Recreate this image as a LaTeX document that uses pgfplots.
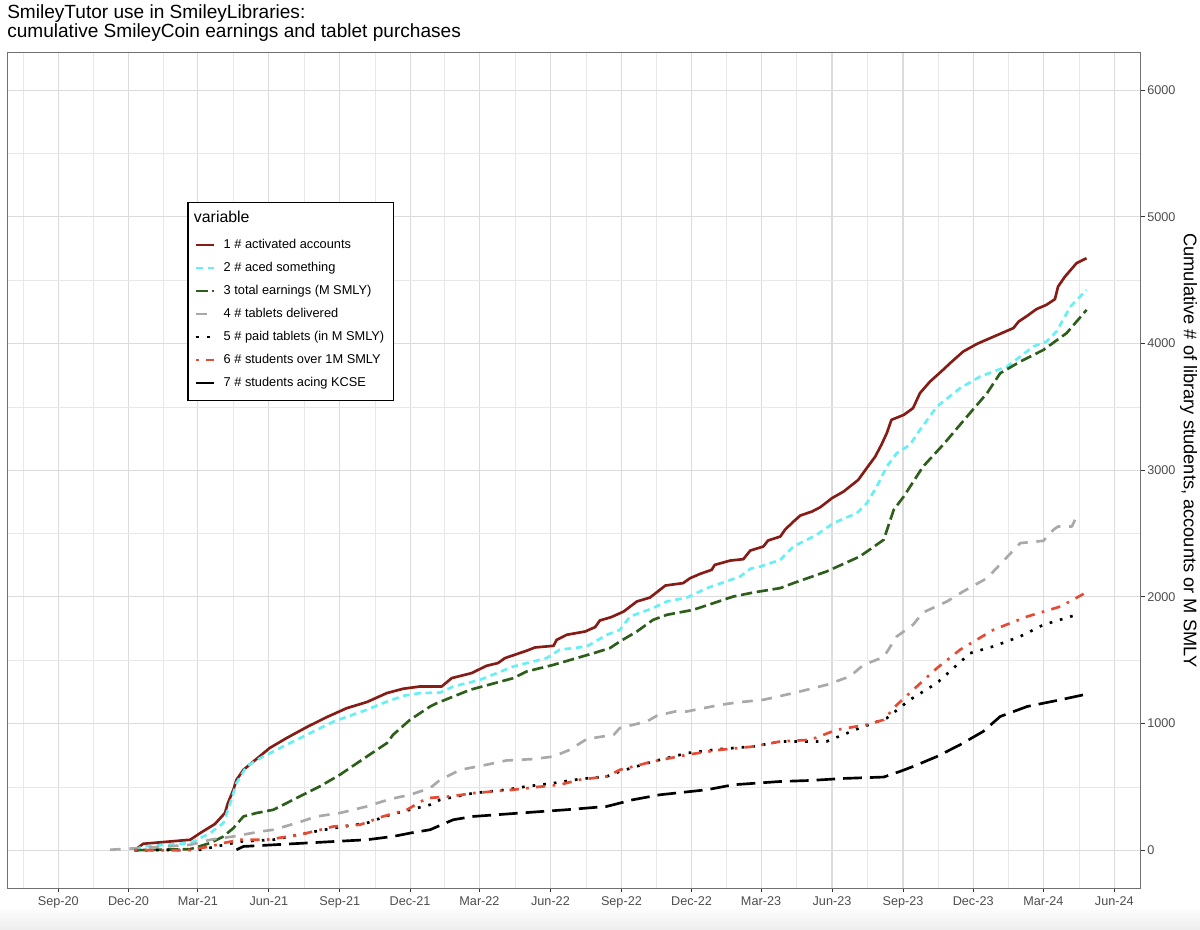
\documentclass[border=0pt]{standalone}
\usepackage{fontspec}
\setmainfont{Liberation Sans}
\usepackage{pgfplots}
\pgfplotsset{compat=1.18}
\usepackage{pgfplotstable}
\definecolor{cA}{HTML}{861C16}
\definecolor{cB}{HTML}{66F0F5}
\definecolor{cC}{HTML}{2E5E1B}
\definecolor{cD}{HTML}{A9A9A9}
\definecolor{cE}{HTML}{000000}
\definecolor{cF}{HTML}{E64B35}
\definecolor{cG}{HTML}{000000}
\definecolor{bordercol}{HTML}{707070}
\definecolor{gridmaj}{HTML}{DCDCDC}
\definecolor{gridmin}{HTML}{E8E8E8}
\definecolor{tickcol}{HTML}{333333}
\definecolor{ticktext}{HTML}{4D4D4D}

% x = days since 2020-09-01
\pgfplotstableread{
d v
99 0
110 51
171 83
184 136
203 207
216 294
220 375
227 478
231 556
240 635
253 701
274 807
296 886
322 972
348 1051
374 1122
400 1170
426 1241
447 1275
469 1293
497 1293
510 1359
536 1399
555 1456
570 1478
579 1517
607 1575
618 1601
642 1614
646 1661
659 1701
683 1727
696 1762
702 1814
717 1841
733 1885
750 1964
767 1995
787 2090
810 2109
819 2148
832 2182
847 2214
851 2253
871 2287
888 2298
897 2366
914 2398
920 2445
936 2477
942 2530
953 2595
962 2643
977 2674
988 2709
1003 2780
1018 2832
1037 2924
1048 3017
1059 3108
1067 3201
1074 3293
1080 3398
1096 3437
1108 3490
1117 3609
1130 3700
1147 3793
1156 3845
1173 3937
1191 3998
1208 4043
1238 4122
1245 4174
1256 4219
1268 4272
1281 4306
1292 4351
1296 4450
1305 4529
1320 4635
1333 4674
}\tabA

\pgfplotstableread{
d v
99 4
110 30
171 57
197 136
214 215
223 373
231 530
244 661
262 728
296 833
322 911
357 1017
400 1109
421 1162
447 1219
469 1241
495 1245
512 1293
547 1346
590 1451
633 1517
650 1583
685 1609
711 1701
728 1740
741 1845
771 1912
789 1964
815 1995
841 2070
884 2161
897 2222
910 2240
936 2293
953 2398
983 2490
1005 2583
1035 2661
1048 2740
1061 2871
1074 3029
1087 3135
1104 3201
1117 3319
1139 3503
1169 3648
1195 3740
1230 3819
1264 3977
1281 4016
1294 4095
1312 4292
1333 4424
}\tabB

\pgfplotstableread{
d v
99 0
171 9
197 57
214 109
227 175
240 267
257 294
279 320
313 425
339 504
365 596
400 740
426 846
434 912
456 1030
482 1135
491 1162
534 1267
590 1359
607 1411
642 1464
694 1556
715 1596
728 1648
750 1727
771 1819
789 1859
823 1898
875 2003
901 2035
936 2070
953 2109
996 2201
1039 2319
1070 2451
1083 2688
1096 2793
1121 3029
1147 3201
1178 3424
1204 3609
1221 3766
1247 3858
1277 3950
1307 4082
1333 4266
}\tabC

\pgfplotstableread{
d v
67 4
82 9
141 30
171 43
197 83
227 109
262 148
279 162
309 215
335 267
365 294
400 346
430 404
456 438
482 491
495 556
521 635
555 675
581 709
616 720
642 740
663 793
685 878
720 912
728 965
763 1017
776 1062
800 1096
815 1096
858 1148
880 1167
914 1188
953 1241
996 1306
1026 1372
1044 1464
1070 1525
1087 1688
1108 1780
1121 1877
1152 1964
1173 2043
1204 2148
1247 2425
1277 2443
1290 2530
1296 2556
1314 2556
1318 2609
}\tabD

\pgfplotstableread{
d v
99 0
184 4
201 25
236 69
279 83
322 136
357 175
400 215
430 280
456 320
482 359
495 399
538 451
581 478
607 504
642 530
676 562
711 583
728 622
771 701
815 767
858 799
901 819
936 859
996 859
1039 965
1074 1043
1104 1188
1139 1320
1182 1556
1212 1609
1247 1688
1277 1780
1320 1859
}\tabE

\pgfplotstableread{
d v
99 0
167 0
197 30
214 57
236 83
270 83
313 122
357 188
391 201
421 267
452 320
478 412
508 425
538 451
590 478
620 499
650 517
676 557
711 583
728 635
771 701
815 754
858 793
901 819
936 859
975 872
1009 951
1048 991
1070 1030
1087 1148
1113 1293
1139 1438
1169 1583
1212 1740
1256 1845
1299 1924
1331 2030
}\tabF

\pgfplotstableread{
d v
231 4
240 30
279 43
357 69
400 83
434 109
460 140
482 162
512 241
538 267
599 294
659 320
711 346
745 399
780 438
841 478
875 517
936 543
975 551
1018 567
1070 578
1091 622
1108 661
1139 740
1169 833
1199 938
1221 1056
1256 1135
1299 1188
1335 1235
}\tabG

\begin{document}
\begin{tikzpicture}
\path[use as bounding box] (0pt,0pt) rectangle (900pt,697.5pt);
\shade[top color=white,bottom color=black!7] (0pt,0pt) rectangle (900pt,18pt);
\begin{axis}[
  at={(5.25pt,31.3pt)}, anchor=south west,
  scale only axis, width=850.3pt, height=627pt,
  xmin=-66.5, xmax=1403.2, ymin=-300, ymax=6300,
  axis line style={draw=bordercol, line width=0.6pt},
  xtick={0,91,181,273,365,456,546,638,730,821,911,1003,1095,1186,1277,1369},
  xticklabels={Sep-20,Dec-20,Mar-21,Jun-21,Sep-21,Dec-21,Mar-22,Jun-22,Sep-22,Dec-22,Mar-23,Jun-23,Sep-23,Dec-23,Mar-24,Jun-24},
  minor xtick={-45.5,45.5,136,227,319,410.5,501,592,684,775.5,866,957,1049,1140.5,1231.5,1323},
  ytick={0,1000,2000,3000,4000,5000,6000},
  yticklabels={0,1000,2000,3000,4000,5000,6000},
  minor ytick={500,1500,2500,3500,4500,5500},
  grid=both,
  major grid style={draw=gridmaj, line width=0.8pt},
  minor grid style={draw=gridmin, line width=0.5pt},
  xtick pos=left, ytick pos=right,
  yticklabel pos=right,
  tick align=outside,
  major tick length=3pt, minor tick length=0pt,
  major tick style={draw=tickcol, line width=0.7pt},
  ticklabel style={font=\fontsize{9.5}{11}\selectfont, text=ticktext},
  xticklabel style={anchor=north, inner sep=0pt},
  xticklabel shift=3.2pt,
  yticklabel style={anchor=west, inner sep=0pt},
  yticklabel shift=1.7pt,
  legend cell align=left,
  legend style={
    at={(0.1588,0.8209)}, anchor=north west,
    draw=black, line width=1.1pt, fill=white,
    inner xsep=4.7pt, inner ysep=9.5pt,
    row sep=7.75pt, column sep=6pt,
    font=\fontsize{9.6}{11}\selectfont,
    nodes={inner sep=0pt, text height=8.5pt, text depth=0.25pt},
    cells={anchor=base west},
  },
  legend image code/.code={\path (0pt,0pt); \draw[#1] (0.75pt,2.7pt) -- (14.25pt,2.7pt);},
  every axis plot/.append style={line join=round, line width=2pt},
]
\addlegendimage{empty legend}
\addlegendentry{\hspace*{-22.3pt}\raisebox{3pt}{\fontsize{11.9}{13}\selectfont variable}}
\addplot[cA] table[x=d,y=v] {\tabA};
\addlegendentry{1 \# activated accounts}
\addplot[cB, dash pattern=on 5pt off 3.5pt] table[x=d,y=v] {\tabB};
\addlegendentry{2 \# aced something}
\addplot[cC, dash pattern=on 8.5pt off 3.5pt] table[x=d,y=v] {\tabC};
\addlegendentry{3 total earnings (M SMLY)}
\addplot[cD, dash pattern=on 8pt off 6.5pt] table[x=d,y=v] {\tabD};
\addlegendentry{4 \# tablets delivered}
\addplot[cE, dash pattern=on 2pt off 6pt] table[x=d,y=v] {\tabE};
\addlegendentry{5 \# paid tablets (in M SMLY)\hspace*{2.25pt}}
\addplot[cF, dash pattern=on 2pt off 5.5pt on 7pt off 5.5pt] table[x=d,y=v] {\tabF};
\addlegendentry{6 \# students over 1M SMLY}
\addplot[cG, dash pattern=on 14pt off 6pt] table[x=d,y=v] {\tabG};
\addlegendentry{7 \# students acing KCSE}
\end{axis}
\node[anchor=north west, align=left, inner sep=0pt, font=\fontsize{14.3}{12.4}\selectfont] at (5.25pt,694pt) {SmileyTutor use in SmileyLibraries:\\cumulative SmileyCoin earnings and tablet purchases};
\node[rotate=-90, inner sep=0pt, font=\fontsize{13.7}{15}\selectfont] at (891.5pt,359.6pt) {Cumulative \# of library students, accounts or M SMLY};
\end{tikzpicture}
\end{document}
